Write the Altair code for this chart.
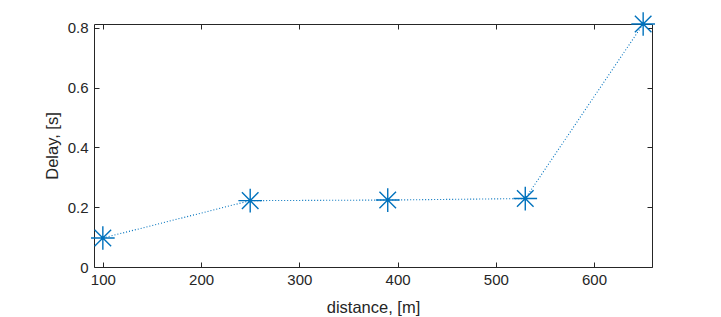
import altair as alt
import pandas as pd

distance = [100, 250, 390, 530, 650]
delay = [0.097, 0.222, 0.224, 0.229, 0.813]
x_ticks = [100, 200, 300, 400, 500, 600]
y_ticks = [0, 0.2, 0.4, 0.6, 0.8]

df = pd.DataFrame({"distance": distance, "delay": delay})

W, H = 558, 243
AX = "#262626"
BLUE = "#0072BD"
FONT = "Liberation Sans"

xs = alt.Scale(domain=[91, 659], nice=False, zero=False)
ys = alt.Scale(domain=[0, 0.813], nice=False, zero=False)

star = "M-1,0H1M0,-1V1M-0.7,-0.7L0.7,0.7M-0.7,0.7L0.7,-0.7"

def tick_axis(orient, offset, values):
    return alt.Axis(orient=orient, offset=offset, values=values, labels=False,
                    domain=False, grid=False, ticks=True, tickSize=5,
                    tickColor=AX, tickWidth=1, title=None)

base = alt.Chart(df)

line = base.mark_line(strokeDash=[1, 2], color=BLUE, strokeWidth=1.1).encode(
    x=alt.X("distance:Q", scale=xs,
            axis=alt.Axis(values=x_ticks, ticks=False, domain=False, grid=False,
                          labelPadding=5, labelFontSize=15, labelColor=AX,
                          labelFont=FONT, title="distance, [m]", titleFont=FONT,
                          titleFontSize=16.5, titleFontWeight="normal",
                          titleColor=AX, titlePadding=12)),
    y=alt.Y("delay:Q", scale=ys,
            axis=alt.Axis(values=y_ticks, ticks=False, domain=False, grid=False,
                          labelPadding=6, labelFontSize=15, labelColor=AX,
                          labelFont=FONT, format="~g", title="Delay, [s]",
                          titleFont=FONT, titleFontSize=16.5,
                          titleFontWeight="normal", titleColor=AX,
                          titlePadding=7)),
)

pts = base.mark_point(shape=star, size=560, filled=False, strokeWidth=1.4,
                      color=BLUE, opacity=1).encode(
    x=alt.X("distance:Q", scale=xs, axis=tick_axis("top", -H, x_ticks)),
    y=alt.Y("delay:Q", scale=ys, axis=tick_axis("right", -W, y_ticks)),
)

ghost = base.mark_point(opacity=0).encode(
    x=alt.X("distance:Q", scale=xs, axis=tick_axis("bottom", -H, x_ticks)),
    y=alt.Y("delay:Q", scale=ys, axis=tick_axis("left", -W, y_ticks)),
)

chart = alt.layer(line, pts, ghost).resolve_axis(
    x="independent", y="independent"
).properties(
    width=W, height=H,
    autosize=alt.AutoSizeParams(type="none"),
    padding={"left": 86, "top": 16, "right": 60, "bottom": 50},
).configure_view(stroke=AX, strokeWidth=1)

chart.save("out.html", embed_options={"renderer": "svg", "actions": False})
